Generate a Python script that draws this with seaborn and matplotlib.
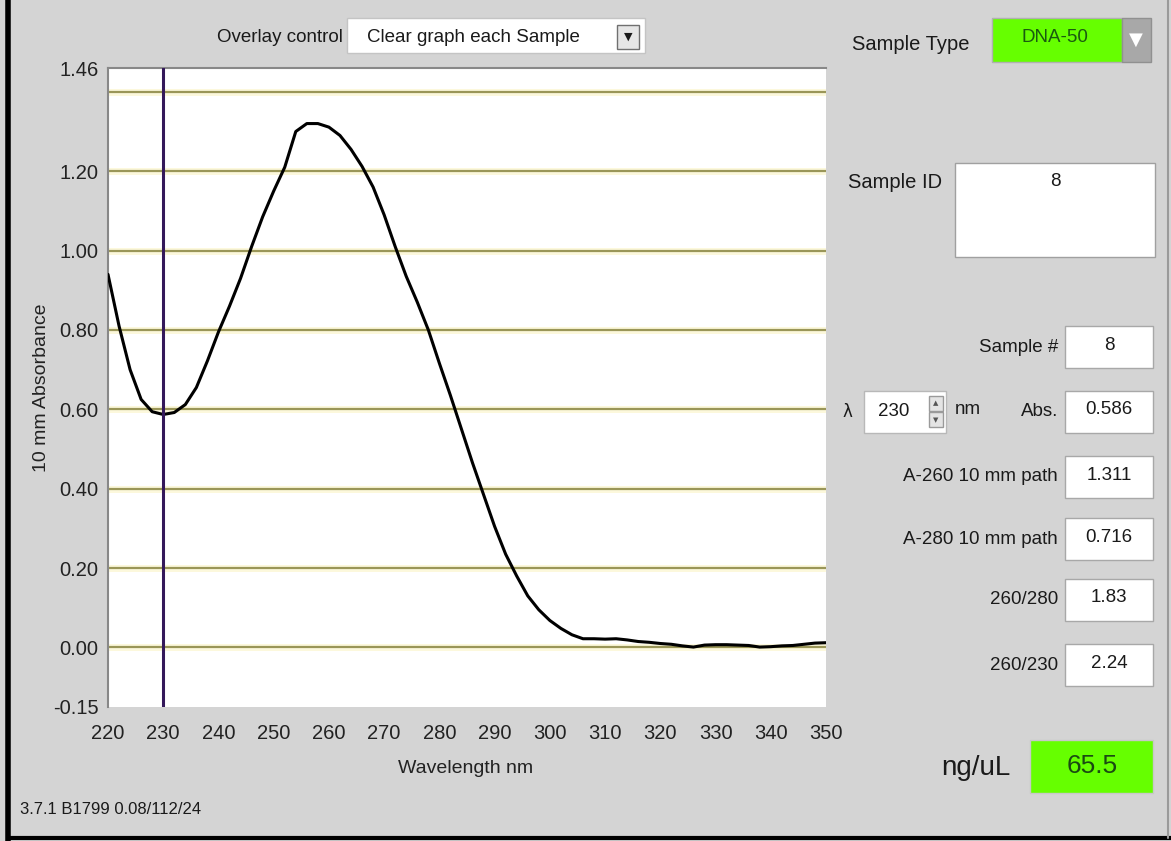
import matplotlib
matplotlib.use("Agg")
import matplotlib.pyplot as plt
import matplotlib.patches as mpatches
import matplotlib.lines as mlines
import pandas as pd
import seaborn as sns

# ---------------- data ----------------
wavelength = [220, 222, 224, 226, 228, 230, 232, 234, 236, 238, 240, 242, 244, 246, 248,
              250, 252, 254, 256, 258, 260, 262, 264, 266, 268, 270, 272, 274, 276, 278,
              280, 282, 284, 286, 288, 290, 292, 294, 296, 298, 300, 302, 304, 306, 308,
              310, 312, 314, 316, 318, 320, 322, 324, 326, 328, 330, 332, 334, 336, 338,
              340, 342, 344, 346, 348, 350]
absorbance = [0.940, 0.810, 0.700, 0.625, 0.594, 0.587, 0.592, 0.612, 0.655, 0.722, 0.795,
              0.860, 0.930, 1.010, 1.085, 1.150, 1.210, 1.300, 1.320, 1.320, 1.311, 1.290,
              1.255, 1.212, 1.160, 1.090, 1.010, 0.935, 0.870, 0.800, 0.716, 0.635, 0.550,
              0.465, 0.385, 0.305, 0.235, 0.180, 0.130, 0.095, 0.068, 0.048, 0.032, 0.022,
              0.022, 0.021, 0.022, 0.019, 0.015, 0.013, 0.010, 0.008, 0.004, 0.001, 0.006,
              0.007, 0.007, 0.006, 0.005, 0.001, 0.002, 0.004, 0.005, 0.008, 0.011, 0.012]

x_ticks = [220, 230, 240, 250, 260, 270, 280, 290, 300, 310, 320, 330, 340, 350]
y_ticks = [-0.15, 0.00, 0.20, 0.40, 0.60, 0.80, 1.00, 1.20, 1.40, 1.46]
y_tick_labels = ["-0.15", "0.00", "0.20", "0.40", "0.60", "0.80", "1.00", "1.20", "", "1.46"]
grid_levels = [0.00, 0.20, 0.40, 0.60, 0.80, 1.00, 1.20, 1.40]
cursor_nm = 230

overlay_label = "Overlay control"
overlay_value = "Clear graph each Sample"
sample_type = "DNA-50"
sample_id = "8"
field_labels = ["Sample #", "Abs.", "A-260 10 mm path", "A-280 10 mm path", "260/280", "260/230"]
field_values = ["8", "0.586", "1.311", "0.716", "1.83", "2.24"]
lambda_value = "230"
conc_label = "ng/uL"
conc_value = "65.5"
version_text = "3.7.1 B1799 0.08/112/24"

# ---------------- style ----------------
sns.set_style("white")
plt.rcParams["font.family"] = ["Liberation Sans", "DejaVu Sans"]

W, H = 1171, 841
BG = "#d4d4d4"
INK = "#1a1a1a"
fig = plt.figure(figsize=(W / 100, H / 100), dpi=100, facecolor=BG)

def fx(x):
    return x / W

def fy(y):
    return 1 - y / H

def box(x0, y0, x1, y1, fc="white", ec="#a0a0a0", lw=1.0, z=1):
    r = mpatches.Rectangle((fx(x0), fy(y1)), fx(x1) - fx(x0), fy(y0) - fy(y1),
                           transform=fig.transFigure, facecolor=fc, edgecolor=ec,
                           linewidth=lw, zorder=z)
    fig.add_artist(r)
    return r

def txt(x, y, s, size=13.5, ha="left", va="center", color=INK, **kw):
    fig.text(fx(x), fy(y), s, fontsize=size, ha=ha, va=va, color=color, **kw)

# window frame
fig.add_artist(mlines.Line2D([fx(8), fx(8)], [0, 1], transform=fig.transFigure,
                             color="black", linewidth=4))
fig.add_artist(mlines.Line2D([fx(8), 1], [fy(838), fy(838)], transform=fig.transFigure,
                             color="black", linewidth=3))
fig.add_artist(mlines.Line2D([fx(1168), fx(1168)], [fy(838), 1], transform=fig.transFigure,
                             color="#9a9a9a", linewidth=1.5))

# ---------------- main plot ----------------
ax = fig.add_axes([fx(108), fy(707), fx(826) - fx(108), fy(68) - fy(707)])
ax.set_facecolor("white")
for g in grid_levels:
    ax.axhline(g, color="#fcf8dc", linewidth=5, zorder=1)
    ax.axhline(g, color="#9a9658", linewidth=1.6, zorder=2)

df = pd.DataFrame({"Wavelength": wavelength, "Absorbance": absorbance})
sns.lineplot(data=df, x="Wavelength", y="Absorbance", ax=ax, color="black",
             linewidth=2.2, zorder=4)
ax.axvline(cursor_nm, color="#34185a", linewidth=2.2, zorder=5)

ax.set_xlim(220, 350)
ax.set_ylim(-0.15, 1.46)
ax.set_xticks(x_ticks)
ax.set_xticklabels([str(t) for t in x_ticks])
ax.set_yticks(y_ticks)
ax.set_yticklabels(y_tick_labels)
ax.tick_params(axis="x", direction="out", length=6, width=1.2, pad=6, labelsize=14.5,
               colors="#222222")
ax.tick_params(axis="y", direction="out", length=5, width=1.2, pad=2, labelsize=14.5,
               colors="#222222")
for side in ["top", "left"]:
    ax.spines[side].set_color("#888888")
    ax.spines[side].set_linewidth(1.5)
for side in ["right", "bottom"]:
    ax.spines[side].set_visible(False)
ax.set_xlabel("Wavelength nm", fontsize=14, color="#222222")
ax.xaxis.set_label_coords((466 - 108) / 718, (707 - 760) / 639)
ax.set_ylabel("10 mm Absorbance", fontsize=14, color="#222222")
ax.yaxis.set_label_coords((50 - 108) / 718, 0.5)
ax.grid(False)

# ---------------- top overlay control ----------------
txt(343, 38, overlay_label, size=13.5, ha="right")
box(347, 18, 645, 53, fc="white", ec="#c4c4c4")
txt(367, 37, overlay_value, size=13.5)
box(617, 25, 639, 49, fc="#e6e6e6", ec="#707070", z=2)
txt(628, 37, "▼", size=8, ha="center", family="DejaVu Sans")

# ---------------- right panel ----------------
txt(852, 45, "Sample Type", size=14.5)
box(992, 18, 1122, 62, fc="#66ff00", ec="#b0b0b0")
txt(1055, 38, sample_type, size=13.5, ha="center", color="#1a5a10")
box(1122, 18, 1151, 62, fc="#a8a8a8", ec="#909090")
txt(1136, 40, "▼", size=13, ha="center", color="white", family="DejaVu Sans")

txt(848, 183, "Sample ID", size=14.5)
box(955, 163, 1155, 257, fc="white", ec="#a0a0a0")
txt(1055, 182, sample_id, size=13.5, ha="center")

row_y = [347, 412, 477, 539, 600, 665]
for lab, val, yy in zip(field_labels, field_values, row_y):
    txt(1058, yy, lab, size=13.5, ha="right")
    box(1065, yy - 21, 1153, yy + 21, fc="white", ec="#a8a8a8")
    txt(1109, yy - 2, val, size=13.5, ha="center")

# lambda spinner row
txt(842, 412, "λ", size=12, family="DejaVu Sans")
box(864, 391, 946, 433, fc="white", ec="#b8b8b8")
txt(894, 412, lambda_value, size=13.5, ha="center")
box(929, 396, 943, 411, fc="#e4e4e4", ec="#9a9a9a", z=2)
box(929, 412, 943, 427, fc="#e4e4e4", ec="#9a9a9a", z=2)
txt(936, 403, "▲", size=5, ha="center", color="#555555", family="DejaVu Sans")
txt(936, 420, "▼", size=5, ha="center", color="#555555", family="DejaVu Sans")
txt(955, 410, "nm", size=13.5)

# concentration
txt(1010, 768, conc_label, size=20, ha="right")
box(1030, 740, 1153, 793, fc="#66ff00", ec="#c8c8c8")
txt(1092, 766, conc_value, size=19, ha="center", color="#1a4a12")

# version text
txt(20, 810, version_text, size=12)

fig.savefig("out.png", dpi=100, facecolor=BG)
